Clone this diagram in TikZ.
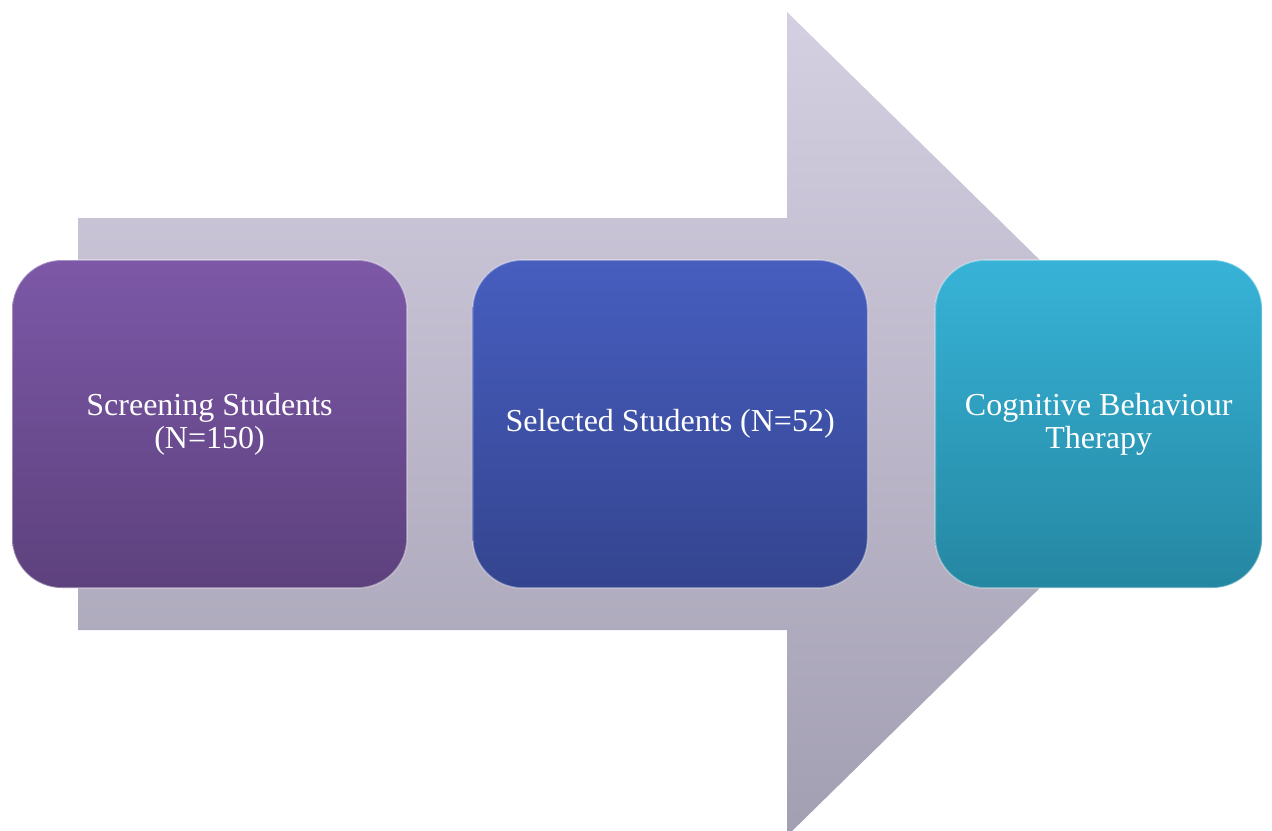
\documentclass[tikz,border=0pt]{standalone}
\usepackage{fontspec}
\setmainfont{Liberation Serif}
\usepackage{tikz}
\usetikzlibrary{positioning}
\definecolor{arrowtop}{RGB}{212,207,225}
\definecolor{arrowbot}{RGB}{163,159,178}
\definecolor{purpletop}{RGB}{124,88,167}
\definecolor{purplebot}{RGB}{93,65,125}
\definecolor{bluetop}{RGB}{71,94,191}
\definecolor{bluebot}{RGB}{52,68,143}
\definecolor{cyantop}{RGB}{55,179,215}
\definecolor{cyanbot}{RGB}{37,135,162}
\tikzstyle{stepbox} = [rectangle, rounded corners=25pt, minimum width=197.5pt, minimum height=164pt, align=center, text=white, font=\fontsize{16}{16.5}\selectfont, draw=white, draw opacity=0.35, line width=0.8pt]
\tikzstyle{bigarrow} = [top color=arrowtop, bottom color=arrowbot]

\begin{document}
\begin{tikzpicture}[x=0.5pt,y=-0.5pt]
    \useasboundingbox (0,0) rectangle (1272,830);
    \clip (0,0) rectangle (1272,830);

    % the big arrow behind the boxes
    \shade[bigarrow] (78,218) -- (787,218) -- (787,12) -- (1207,424) -- (787,836) -- (787,630) -- (78,630) -- cycle;

    \node (b1) [stepbox, top color=purpletop, bottom color=purplebot] at (209.5,424) {Screening Students\\(N=150)};
    \node (b2) [stepbox, top color=bluetop, bottom color=bluebot, right=32pt of b1] {Selected Students (N=52)};
    \node (b3) [stepbox, top color=cyantop, bottom color=cyanbot, right=33pt of b2, minimum width=163.5pt] {Cognitive Behaviour\\Therapy};

\end{tikzpicture}
\end{document}
